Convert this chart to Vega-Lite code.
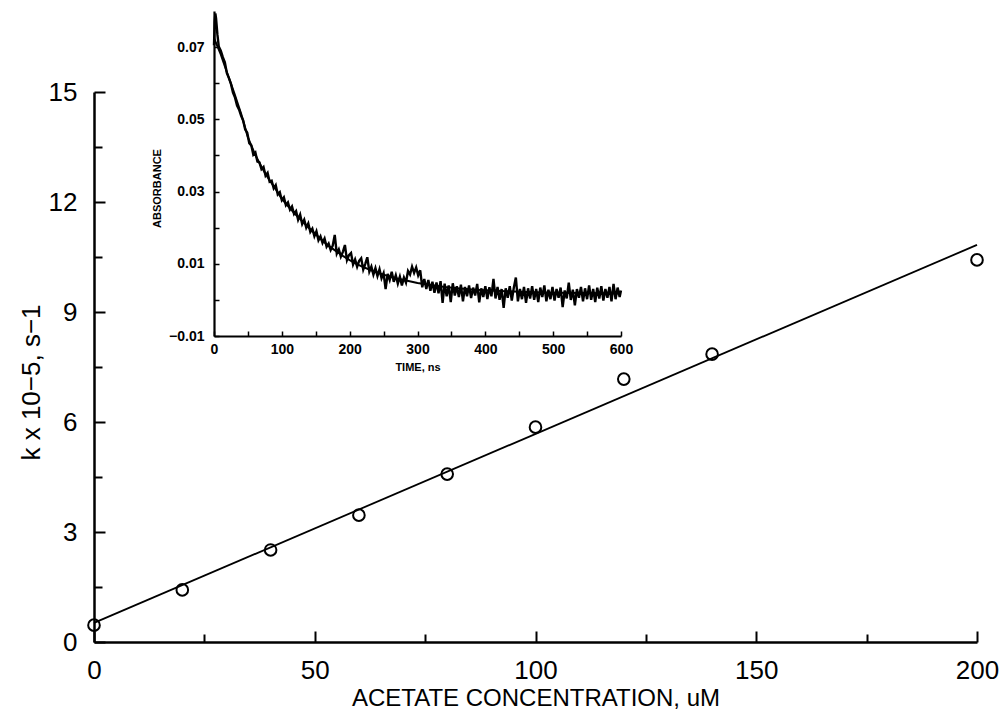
{
  "$schema": "https://vega.github.io/schema/vega-lite/v6.json",
  "width": 883,
  "height": 550,
  "autosize": "none",
  "padding": {"left": 94, "top": 92, "right": 26, "bottom": 69},
  "background": "white",
  "config": {
    "view": {"stroke": null},
    "axis": {"grid": false, "labelFont": "Liberation Sans", "titleFont": "Liberation Sans", "labelColor": "black", "titleColor": "black", "domainColor": "black", "tickColor": "black"}
  },
  "datasets": {
    "points": [
      {"conc": 0, "k": 0.46}, {"conc": 20, "k": 1.42}, {"conc": 40, "k": 2.51}, {"conc": 60, "k": 3.46},
      {"conc": 80, "k": 4.58}, {"conc": 100, "k": 5.86}, {"conc": 120, "k": 7.17}, {"conc": 140, "k": 7.85},
      {"conc": 200, "k": 10.42}
    ],
    "fit": [{"conc": 0, "k": 0.52}, {"conc": 200, "k": 10.83}],
    "trace": [
      {"time": 0, "absorbance": 0.0705}, {"time": 1, "absorbance": 0.077}, {"time": 2, "absorbance": 0.0793}, {"time": 3, "absorbance": 0.078},
      {"time": 5, "absorbance": 0.0735}, {"time": 7, "absorbance": 0.0702}, {"time": 10, "absorbance": 0.069}, {"time": 13, "absorbance": 0.0672},
      {"time": 16, "absorbance": 0.0658}, {"time": 19, "absorbance": 0.0628}, {"time": 22, "absorbance": 0.0614}, {"time": 25, "absorbance": 0.0598},
      {"time": 28, "absorbance": 0.0574}, {"time": 31, "absorbance": 0.056}, {"time": 34, "absorbance": 0.0538}, {"time": 37, "absorbance": 0.0527},
      {"time": 40, "absorbance": 0.051}, {"time": 43, "absorbance": 0.0497}, {"time": 46, "absorbance": 0.0472}, {"time": 49, "absorbance": 0.0463},
      {"time": 52, "absorbance": 0.0434}, {"time": 55, "absorbance": 0.0428}, {"time": 58, "absorbance": 0.0402}, {"time": 61, "absorbance": 0.0408},
      {"time": 64, "absorbance": 0.0383}, {"time": 67, "absorbance": 0.0381}, {"time": 70, "absorbance": 0.0362}, {"time": 73, "absorbance": 0.0368},
      {"time": 76, "absorbance": 0.0344}, {"time": 79, "absorbance": 0.0352}, {"time": 82, "absorbance": 0.0327}, {"time": 85, "absorbance": 0.033},
      {"time": 88, "absorbance": 0.0309}, {"time": 91, "absorbance": 0.0318}, {"time": 94, "absorbance": 0.0292}, {"time": 97, "absorbance": 0.0298},
      {"time": 100, "absorbance": 0.0276}, {"time": 103, "absorbance": 0.0284}, {"time": 106, "absorbance": 0.0262}, {"time": 109, "absorbance": 0.027},
      {"time": 112, "absorbance": 0.025}, {"time": 115, "absorbance": 0.0259}, {"time": 118, "absorbance": 0.0238}, {"time": 121, "absorbance": 0.0246},
      {"time": 124, "absorbance": 0.0222}, {"time": 127, "absorbance": 0.0236}, {"time": 130, "absorbance": 0.021}, {"time": 133, "absorbance": 0.0222},
      {"time": 136, "absorbance": 0.02}, {"time": 139, "absorbance": 0.0212}, {"time": 142, "absorbance": 0.0188}, {"time": 145, "absorbance": 0.0197},
      {"time": 148, "absorbance": 0.0176}, {"time": 151, "absorbance": 0.019}, {"time": 154, "absorbance": 0.0165}, {"time": 157, "absorbance": 0.0176},
      {"time": 160, "absorbance": 0.0158}, {"time": 163, "absorbance": 0.017}, {"time": 166, "absorbance": 0.0147}, {"time": 169, "absorbance": 0.0156},
      {"time": 172, "absorbance": 0.0138}, {"time": 175, "absorbance": 0.015}, {"time": 178, "absorbance": 0.018}, {"time": 181, "absorbance": 0.0128},
      {"time": 184, "absorbance": 0.014}, {"time": 187, "absorbance": 0.012}, {"time": 190, "absorbance": 0.0133}, {"time": 193, "absorbance": 0.0152},
      {"time": 196, "absorbance": 0.011}, {"time": 199, "absorbance": 0.0124}, {"time": 202, "absorbance": 0.013}, {"time": 205, "absorbance": 0.0098},
      {"time": 208, "absorbance": 0.0112}, {"time": 211, "absorbance": 0.0092}, {"time": 214, "absorbance": 0.0108}, {"time": 217, "absorbance": 0.0115},
      {"time": 220, "absorbance": 0.0084}, {"time": 223, "absorbance": 0.01}, {"time": 226, "absorbance": 0.0118}, {"time": 229, "absorbance": 0.0078},
      {"time": 232, "absorbance": 0.0092}, {"time": 235, "absorbance": 0.007}, {"time": 238, "absorbance": 0.0088}, {"time": 241, "absorbance": 0.0066},
      {"time": 244, "absorbance": 0.0085}, {"time": 247, "absorbance": 0.006}, {"time": 250, "absorbance": 0.0074}, {"time": 253, "absorbance": 0.003},
      {"time": 256, "absorbance": 0.0072}, {"time": 259, "absorbance": 0.0055}, {"time": 262, "absorbance": 0.0078}, {"time": 265, "absorbance": 0.005},
      {"time": 268, "absorbance": 0.0068}, {"time": 271, "absorbance": 0.0045}, {"time": 274, "absorbance": 0.0064}, {"time": 277, "absorbance": 0.004},
      {"time": 280, "absorbance": 0.0062}, {"time": 283, "absorbance": 0.0048}, {"time": 286, "absorbance": 0.008}, {"time": 289, "absorbance": 0.007},
      {"time": 292, "absorbance": 0.0092}, {"time": 295, "absorbance": 0.0075}, {"time": 298, "absorbance": 0.009}, {"time": 301, "absorbance": 0.0068},
      {"time": 304, "absorbance": 0.0082}, {"time": 307, "absorbance": 0.0035}, {"time": 310, "absorbance": 0.0058}, {"time": 313, "absorbance": 0.003},
      {"time": 316, "absorbance": 0.0055}, {"time": 319, "absorbance": 0.0025}, {"time": 322, "absorbance": 0.005}, {"time": 325, "absorbance": 0.002},
      {"time": 328, "absorbance": 0.0048}, {"time": 331, "absorbance": 0.0018}, {"time": 334, "absorbance": 0.0052}, {"time": 337, "absorbance": -0.0008},
      {"time": 340, "absorbance": 0.0045}, {"time": 343, "absorbance": 0.001}, {"time": 346, "absorbance": 0.004}, {"time": 349, "absorbance": -0.0006},
      {"time": 352, "absorbance": 0.0046}, {"time": 355, "absorbance": 0.0012}, {"time": 358, "absorbance": 0.0038}, {"time": 361, "absorbance": 0.0008},
      {"time": 364, "absorbance": 0.0042}, {"time": 367, "absorbance": -0.0004}, {"time": 370, "absorbance": 0.0036}, {"time": 373, "absorbance": 0.001},
      {"time": 376, "absorbance": 0.004}, {"time": 379, "absorbance": 0.0005}, {"time": 382, "absorbance": 0.0034}, {"time": 385, "absorbance": 0.0012},
      {"time": 388, "absorbance": 0.0044}, {"time": 391, "absorbance": -0.0007}, {"time": 394, "absorbance": 0.0032}, {"time": 397, "absorbance": 0.0008},
      {"time": 400, "absorbance": 0.0038}, {"time": 403, "absorbance": 0.0002}, {"time": 406, "absorbance": 0.0035}, {"time": 409, "absorbance": 0.001},
      {"time": 412, "absorbance": 0.0058}, {"time": 415, "absorbance": 0.0004}, {"time": 418, "absorbance": 0.0036}, {"time": 421, "absorbance": 0.0},
      {"time": 424, "absorbance": 0.003}, {"time": 427, "absorbance": -0.0022}, {"time": 430, "absorbance": 0.0032}, {"time": 433, "absorbance": 0.0006},
      {"time": 436, "absorbance": 0.0038}, {"time": 439, "absorbance": -0.0002}, {"time": 442, "absorbance": 0.0034}, {"time": 445, "absorbance": 0.0062},
      {"time": 448, "absorbance": -0.0004}, {"time": 451, "absorbance": 0.003}, {"time": 454, "absorbance": 0.0002}, {"time": 457, "absorbance": 0.0036},
      {"time": 460, "absorbance": -0.0008}, {"time": 463, "absorbance": 0.0032}, {"time": 466, "absorbance": 0.0004}, {"time": 469, "absorbance": 0.0038},
      {"time": 472, "absorbance": 0.0}, {"time": 475, "absorbance": 0.003}, {"time": 478, "absorbance": -0.0006}, {"time": 481, "absorbance": 0.0034},
      {"time": 484, "absorbance": 0.0008}, {"time": 487, "absorbance": 0.004}, {"time": 490, "absorbance": -0.0004}, {"time": 493, "absorbance": 0.0028},
      {"time": 496, "absorbance": 0.0002}, {"time": 499, "absorbance": 0.0036}, {"time": 502, "absorbance": -0.0002}, {"time": 505, "absorbance": 0.003},
      {"time": 508, "absorbance": 0.0006}, {"time": 511, "absorbance": 0.0034}, {"time": 514, "absorbance": -0.002}, {"time": 517, "absorbance": 0.0026},
      {"time": 520, "absorbance": 0.0004}, {"time": 523, "absorbance": 0.0048}, {"time": 526, "absorbance": 0.0}, {"time": 529, "absorbance": 0.0028},
      {"time": 532, "absorbance": -0.0015}, {"time": 535, "absorbance": 0.003}, {"time": 538, "absorbance": 0.0006}, {"time": 541, "absorbance": 0.0036},
      {"time": 544, "absorbance": -0.0004}, {"time": 547, "absorbance": 0.0032}, {"time": 550, "absorbance": 0.0002}, {"time": 553, "absorbance": 0.004},
      {"time": 556, "absorbance": 0.0}, {"time": 559, "absorbance": 0.003}, {"time": 562, "absorbance": -0.0006}, {"time": 565, "absorbance": 0.0034},
      {"time": 568, "absorbance": 0.0004}, {"time": 571, "absorbance": 0.0038}, {"time": 574, "absorbance": -0.0002}, {"time": 577, "absorbance": 0.003},
      {"time": 580, "absorbance": 0.0006}, {"time": 583, "absorbance": 0.0036}, {"time": 586, "absorbance": -0.0004}, {"time": 589, "absorbance": 0.0044},
      {"time": 592, "absorbance": 0.0002}, {"time": 595, "absorbance": 0.0034}, {"time": 598, "absorbance": 0.0008}, {"time": 600, "absorbance": 0.0026}
    ],
    "tfit": [
      {"time": 0, "absorbance": 0.0725}, {"time": 10, "absorbance": 0.068}, {"time": 20, "absorbance": 0.0625}, {"time": 30, "absorbance": 0.0572},
      {"time": 40, "absorbance": 0.0515}, {"time": 50, "absorbance": 0.045}, {"time": 60, "absorbance": 0.0405}, {"time": 70, "absorbance": 0.0368},
      {"time": 80, "absorbance": 0.0337}, {"time": 90, "absorbance": 0.0309}, {"time": 100, "absorbance": 0.028}, {"time": 110, "absorbance": 0.0258},
      {"time": 120, "absorbance": 0.0237}, {"time": 130, "absorbance": 0.0218}, {"time": 140, "absorbance": 0.0199}, {"time": 150, "absorbance": 0.0182},
      {"time": 160, "absorbance": 0.0164}, {"time": 170, "absorbance": 0.0148}, {"time": 180, "absorbance": 0.0135}, {"time": 190, "absorbance": 0.0122},
      {"time": 200, "absorbance": 0.011}, {"time": 210, "absorbance": 0.01}, {"time": 220, "absorbance": 0.0091}, {"time": 230, "absorbance": 0.0083},
      {"time": 240, "absorbance": 0.0076}, {"time": 250, "absorbance": 0.007}, {"time": 260, "absorbance": 0.0064}, {"time": 270, "absorbance": 0.0059},
      {"time": 280, "absorbance": 0.0055}, {"time": 290, "absorbance": 0.0051}, {"time": 300, "absorbance": 0.0047}, {"time": 320, "absorbance": 0.0041},
      {"time": 340, "absorbance": 0.0036}, {"time": 360, "absorbance": 0.0032}, {"time": 380, "absorbance": 0.0029}, {"time": 400, "absorbance": 0.0027},
      {"time": 430, "absorbance": 0.0024}, {"time": 460, "absorbance": 0.0022}, {"time": 500, "absorbance": 0.002}, {"time": 550, "absorbance": 0.0019},
      {"time": 600, "absorbance": 0.0018}
    ]
  },
  "layer": [
    {
      "layer": [
        {
          "data": {"name": "fit"},
          "mark": {"type": "line", "color": "black", "strokeWidth": 1.8, "clip": false},
          "encoding": {
            "x": {"field": "conc", "type": "quantitative", "scale": {"domain": [0, 200], "nice": false},
              "axis": {"orient": "bottom", "values": [0, 50, 100, 150, 200], "domainWidth": 2.5, "ticks": false, "labelPadding": 15, "labelFontSize": 26, "title": "ACETATE CONCENTRATION, uM", "titleFontSize": 24, "titleFontWeight": "normal", "titleY": 44, "labelFlush": false}},
            "y": {"field": "k", "type": "quantitative", "scale": {"domain": [0, 15], "nice": false},
              "axis": {"orient": "left", "values": [0, 3, 6, 9, 12, 15], "domainWidth": 2.5, "ticks": false, "labelPadding": 17, "labelFontSize": 26, "title": "k x 10−5, s−1", "titleFontSize": 26, "titleFontWeight": "normal", "titleX": -50, "titleY": 290}}
          }
        },
        {
          "data": {"name": "points"},
          "mark": {"type": "point", "shape": "circle", "filled": false, "color": "black", "size": 135, "strokeWidth": 2, "opacity": 1, "clip": false},
          "encoding": {
            "x": {"field": "conc", "type": "quantitative",
              "axis": {"orient": "top", "offset": -550, "values": [0, 25, 50, 75, 100, 125, 150, 175, 200], "domain": false, "labels": false, "title": null, "tickWidth": 2,
                "tickSize": {"condition": {"test": "datum.value % 50 === 0", "value": 11}, "value": 8}}},
            "y": {"field": "k", "type": "quantitative",
              "axis": {"orient": "right", "offset": -883, "values": [0, 1.5, 3, 4.5, 6, 7.5, 9, 10.5, 12, 13.5, 15], "domain": false, "labels": false, "title": null, "tickWidth": 2,
                "tickSize": {"condition": {"test": "datum.value % 3 === 0", "value": 11}, "value": 8}}}
          }
        }
      ],
      "resolve": {"axis": {"x": "independent", "y": "independent"}}
    },
    {
      "layer": [
        {
          "data": {"name": "trace"},
          "mark": {"type": "line", "color": "black", "strokeWidth": 2.4, "clip": false},
          "encoding": {
            "x": {"field": "time", "type": "quantitative", "scale": {"domain": [0, 600], "range": [120, 527], "nice": false, "zero": false},
              "axis": {"orient": "bottom", "offset": -306, "values": [0, 100, 200, 300, 400, 500, 600], "domainWidth": 2.2, "ticks": false, "labelPadding": 6, "labelFontSize": 14, "labelFontWeight": "bold", "title": "TIME, ns", "titleFontSize": 11, "titleFontWeight": "bold", "titlePadding": 5, "labelFlush": false}},
            "y": {"field": "absorbance", "type": "quantitative", "scale": {"domain": [-0.01, 0.08], "range": [244, -81], "nice": false, "zero": false},
              "axis": {"orient": "left", "offset": -120, "values": [-0.01, 0.01, 0.03, 0.05, 0.07], "format": ".2f", "domainWidth": 2.2, "ticks": false, "labelPadding": 10, "labelFontSize": 14, "labelFontWeight": "bold", "title": "ABSORBANCE", "titleFontSize": 11, "titleFontWeight": "bold", "titlePadding": 6, "titleY": 96}}
          }
        },
        {
          "data": {"name": "tfit"},
          "mark": {"type": "line", "color": "black", "strokeWidth": 2, "clip": false},
          "encoding": {
            "x": {"field": "time", "type": "quantitative",
              "axis": {"orient": "top", "offset": -244, "values": [0, 50, 100, 150, 200, 250, 300, 350, 400, 450, 500, 550, 600], "domain": false, "labels": false, "title": null, "tickWidth": 1.5, "tickSize": 5}},
            "y": {"field": "absorbance", "type": "quantitative",
              "axis": {"orient": "right", "offset": -763, "values": [-0.01, 0, 0.01, 0.02, 0.03, 0.04, 0.05, 0.06, 0.07], "domain": false, "labels": false, "title": null, "tickWidth": 1.5, "tickSize": 5}}
          }
        }
      ],
      "resolve": {"axis": {"x": "independent", "y": "independent"}}
    }
  ],
  "resolve": {"scale": {"x": "independent", "y": "independent"}, "axis": {"x": "independent", "y": "independent"}}
}
